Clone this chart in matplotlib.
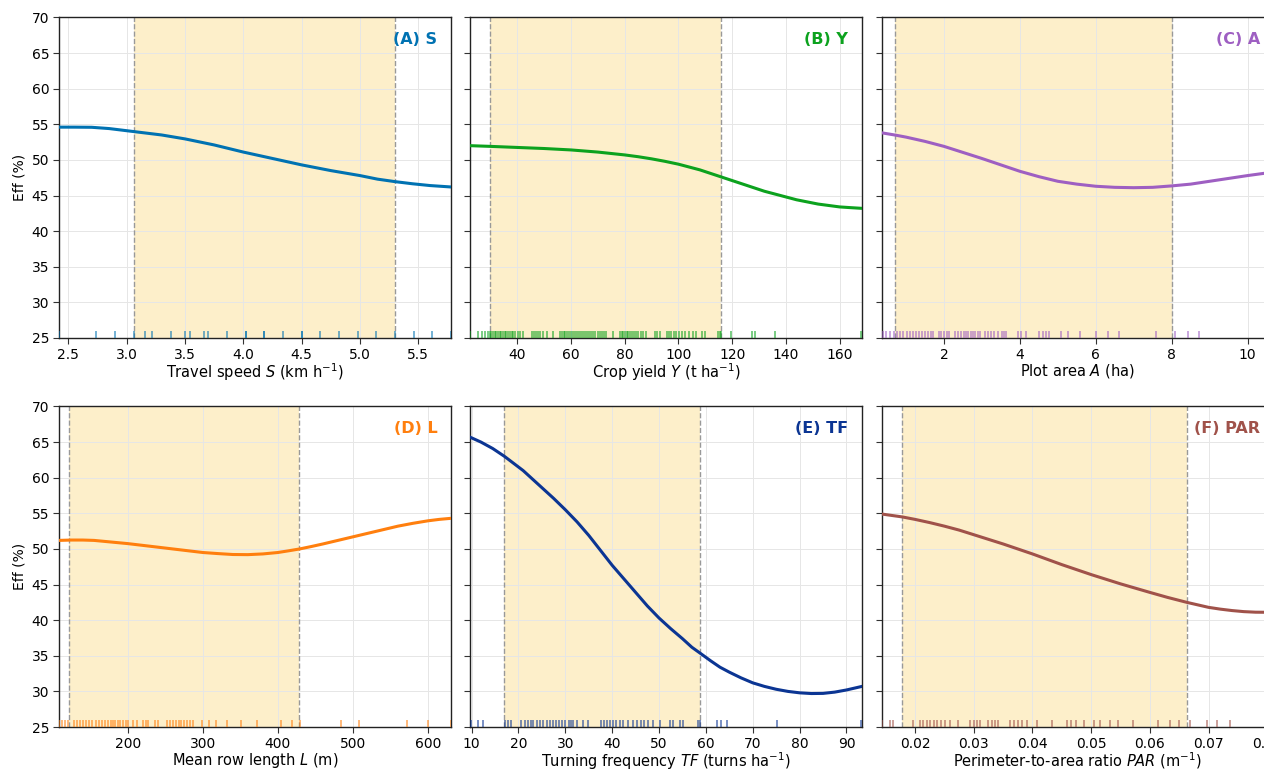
import numpy as np
import matplotlib
matplotlib.use("Agg")
import matplotlib.pyplot as plt

# curves (x, Eff %)
s_x = [2.42, 2.55, 2.7, 2.85, 3.0, 3.15, 3.3, 3.5, 3.75, 4.0, 4.25, 4.5, 4.75, 5.0, 5.15, 5.3, 5.45, 5.6, 5.78]
s_eff = [54.6, 54.6, 54.58, 54.4, 54.1, 53.8, 53.5, 52.95, 52.1, 51.1, 50.2, 49.3, 48.5, 47.8, 47.3, 46.95, 46.65, 46.4, 46.2]
y_x = [22.4, 30, 40, 50, 60, 70, 80, 85, 90, 95, 100, 104, 108, 112, 116, 120, 124, 128, 132,
       136, 140, 144, 148, 152, 156, 160, 164, 168.3]
y_eff = [52.0, 51.9, 51.75, 51.6, 51.4, 51.1, 50.7, 50.45, 50.15, 49.8, 49.4, 49.0, 48.6, 48.1,
         47.6, 47.1, 46.6, 46.1, 45.6, 45.2, 44.8, 44.4, 44.1, 43.8, 43.6, 43.4, 43.3, 43.2]
a_x = [0.36, 0.7, 1.0, 1.5, 2.0, 2.5, 3.0, 3.5, 4.0, 4.5, 5.0, 5.5, 6.0, 6.5, 7.0, 7.5, 8.0,
       8.5, 9.0, 9.5, 10.0, 10.69]
a_eff = [53.8, 53.5, 53.2, 52.6, 51.9, 51.05, 50.2, 49.3, 48.4, 47.65, 47.0, 46.6, 46.3, 46.15,
         46.1, 46.15, 46.35, 46.6, 47.0, 47.4, 47.8, 48.3]
l_x = [108.4, 125, 140, 155, 170, 185, 200, 220, 240, 260, 280, 300, 320, 340, 360, 380, 400,
       415, 429, 445, 460, 480, 500, 520, 540, 560, 580, 600, 615, 630.7]
l_eff = [51.2, 51.25, 51.25, 51.2, 51.05, 50.9, 50.75, 50.5, 50.25, 50.0, 49.75, 49.5, 49.35,
         49.22, 49.2, 49.3, 49.5, 49.75, 50.0, 50.35, 50.7, 51.2, 51.7, 52.2, 52.7, 53.2, 53.6,
         53.95, 54.15, 54.3]
tf_x = [9.64, 12, 14.5, 17, 19, 21, 23, 25, 27.5, 30, 32.5, 35, 37.5, 40, 42.5, 45, 47.5, 50,
        52.5, 55, 57, 58.7, 61, 63, 65, 67.5, 70, 72.5, 75, 77.5, 80, 82.5, 85, 87.5, 90, 93.3]
tf_eff = [65.7, 65.0, 64.1, 63.0, 62.0, 61.0, 59.8, 58.6, 57.1, 55.5, 53.8, 51.9, 49.8, 47.7,
          45.8, 43.9, 42.0, 40.3, 38.8, 37.4, 36.2, 35.4, 34.3, 33.4, 32.7, 31.9, 31.2, 30.7,
          30.3, 30.0, 29.8, 29.7, 29.72, 29.9, 30.2, 30.7]
par_x = [0.01433, 0.0178, 0.02, 0.0225, 0.025, 0.0275, 0.03, 0.0325, 0.035, 0.0375, 0.04,
         0.0425, 0.045, 0.0475, 0.05, 0.0525, 0.055, 0.0575, 0.06, 0.063, 0.0663, 0.07, 0.072,
         0.074, 0.076, 0.078, 0.0811]
par_eff = [54.9, 54.5, 54.15, 53.7, 53.2, 52.65, 52.0, 51.35, 50.7, 50.0, 49.3, 48.55, 47.8,
           47.1, 46.4, 45.75, 45.1, 44.5, 43.9, 43.2, 42.5, 41.8, 41.55, 41.35, 41.2, 41.12, 41.1]

# observed values (rug)
s_rug = [2.42, 2.74, 2.90, 3.06, 3.16, 3.22, 3.38, 3.50, 3.54, 3.66, 3.70, 3.86, 4.02, 4.02,
         4.18, 4.18, 4.34, 4.50, 4.50, 4.66, 4.82, 4.98, 5.14, 5.30, 5.46, 5.62, 5.78]
y_rug = [22.4, 25.5, 26.8, 27.9, 29.0, 29.8, 30.4, 31.1, 31.6, 32.2, 32.9, 33.5, 34.1, 34.6,
         35.3, 35.9, 36.4, 37.2, 38.0, 38.6, 39.3, 40.1, 41.0, 42.2, 45.4, 46.2, 46.9, 47.7,
         48.4, 49.6, 50.9, 53.4, 55.9, 56.6, 57.3, 57.9, 58.7, 59.4, 60.1, 60.8, 61.4, 62.2,
         62.9, 63.8, 64.5, 65.3, 66.0, 66.8, 67.5, 68.3, 69.0, 69.9, 70.8, 71.6, 72.4, 73.2,
         75.7, 78.2, 78.9, 79.5, 80.1, 80.7, 81.3, 82.0, 82.8, 83.5, 84.3, 85.1, 86.0, 86.9,
         88.1, 91.2, 92.1, 93.1, 95.6, 96.4, 97.3, 98.2, 99.1, 100.2, 101.3, 102.5, 103.8,
         105.5, 106.7, 108.6, 109.8, 114.8, 115.4, 116.0, 119.7, 127.2, 128.4, 135.8, 168.1]
a_rug = [0.38, 0.48, 0.58, 0.68, 0.76, 0.85, 0.93, 1.02, 1.10, 1.18, 1.26, 1.33, 1.41, 1.50,
         1.58, 1.66, 1.72, 1.86, 1.93, 2.00, 2.08, 2.14, 2.30, 2.38, 2.45, 2.52, 2.58, 2.64,
         2.70, 2.76, 2.82, 2.90, 2.96, 3.08, 3.16, 3.24, 3.32, 3.42, 3.52, 3.58, 3.63, 3.94,
         4.04, 4.15, 4.50, 4.62, 4.70, 4.77, 5.08, 5.27, 5.59, 6.01, 6.32, 6.61, 7.58, 8.08,
         8.43, 8.72]
l_rug = [108.4, 112, 116, 120.9, 128.4, 132, 136, 140, 144, 148, 153, 157, 161, 165, 169,
         173, 177, 180.8, 183.1, 187, 190, 194, 197, 200.9, 207.5, 212.9, 220.9, 224, 227.6,
         236.5, 240.9, 252, 256, 260, 264, 268, 271, 275, 279, 283.1, 287.5, 298.7, 308.9,
         317.7, 332, 350.7, 372, 404.4, 419.5, 428.9, 484, 508.4, 572, 600, 630.7]
tf_rug = [9.79, 11.4, 12.5, 17.1, 17.8, 18.5, 20.5, 21.3, 22.0, 22.6, 23.2, 23.9, 24.6, 25.3,
          26.0, 26.7, 27.3, 27.9, 28.6, 29.3, 30.0, 30.7, 31.2, 31.7, 32.4, 33.8, 34.9, 37.7,
          38.3, 38.9, 39.5, 40.2, 40.8, 41.6, 42.3, 43.4, 44.5, 45.3, 46.1, 46.8, 47.6, 48.7,
          50.2, 52.3, 53.0, 54.4, 55.1, 58.3, 58.7, 62.3, 63.3, 64.6, 75.2, 93.2]
par_rug = [0.01433, 0.01574, 0.0163, 0.0197, 0.0209, 0.0214, 0.0220, 0.0226, 0.0232, 0.0238,
           0.0244, 0.0251, 0.0260, 0.0274, 0.0294, 0.0300, 0.0306, 0.0311, 0.0325, 0.0331,
           0.0337, 0.0342, 0.0362, 0.0369, 0.0376, 0.0383, 0.0390, 0.0407, 0.0433, 0.0458,
           0.0466, 0.0475, 0.0487, 0.0504, 0.0515, 0.0532, 0.0546, 0.0572, 0.0614, 0.0634,
           0.0649, 0.0668, 0.0697, 0.0714, 0.0737]

# shaded central ranges
s_band = (3.06, 5.30)
y_band = (29.8, 115.8)
a_band = (0.70, 8.0)
l_band = (121.3, 428.8)
tf_band = (16.96, 58.7)
par_band = (0.01784, 0.0663)

titles = ["(A) S", "(B) Y", "(C) A", "(D) L", "(E) TF", "(F) PAR"]
xlabels = [r"Travel speed $S$ (km h$^{-1}$)", r"Crop yield $Y$ (t ha$^{-1}$)",
           r"Plot area $A$ (ha)", r"Mean row length $L$ (m)",
           r"Turning frequency $TF$ (turns ha$^{-1}$)",
           r"Perimeter-to-area ratio $PAR$ (m$^{-1}$)"]

panels = [
    (s_x, s_eff, s_rug, s_band, (2.42, 5.78), np.arange(2.5, 5.6, 0.5), "#0072B2"),
    (y_x, y_eff, y_rug, y_band, (22.4, 168.3), np.arange(40, 161, 20), "#0CA21E"),
    (a_x, a_eff, a_rug, a_band, (0.36, 10.69), np.arange(2, 11, 2), "#9E5FC2"),
    (l_x, l_eff, l_rug, l_band, (108.4, 630.7), np.arange(200, 601, 100), "#FF7F0E"),
    (tf_x, tf_eff, tf_rug, tf_band, (9.64, 93.3), np.arange(10, 91, 10), "#0B3593"),
    (par_x, par_eff, par_rug, par_band, (0.01433, 0.0811), np.arange(0.02, 0.081, 0.01), "#A0524A"),
]

fig = plt.figure(figsize=(12.64, 7.69), dpi=100)
lefts = [0.0467, 0.3718, 0.6976]
bottoms = [0.5605, 0.0546]
w, h = 0.3101, 0.4168

for i, (px, py, rug, band, xlim, xt, col) in enumerate(panels):
    r, c = divmod(i, 3)
    ax = fig.add_axes([lefts[c], bottoms[r], w, h])
    ax.grid(True, color="#e6e6e6", lw=0.7, zorder=0)
    ax.axvspan(band[0], band[1], color="#FCE5A8", alpha=0.6, lw=0, zorder=1)
    for b in band:
        ax.axvline(b, color="#999999", lw=1, ls="--", zorder=2)
    ax.plot(px, py, color=col, lw=2.2, zorder=4, solid_joinstyle="round")
    ax.vlines(rug, 0, 0.022, transform=ax.get_xaxis_transform(), color=col,
              alpha=0.55, lw=1.4, zorder=3)
    ax.set_xlim(xlim)
    ax.set_ylim(25, 70)
    ax.set_xticks(xt)
    ax.set_yticks(range(25, 71, 5))
    if c != 0:
        ax.set_yticklabels([])
    else:
        ax.set_ylabel("Eff (%)", fontsize=10)
    ax.set_xlabel(xlabels[i], fontsize=10.5, labelpad=0)
    ax.tick_params(labelsize=10, length=4, pad=3, color="#333333")
    ax.text(0.965, 0.93, titles[i], transform=ax.transAxes, ha="right", va="center",
            color=col, fontsize=11.5, fontweight="bold", zorder=5)
    for sp in ax.spines.values():
        sp.set_color("#222222")
        sp.set_linewidth(1.0)

fig.savefig("out.png", dpi=100)
